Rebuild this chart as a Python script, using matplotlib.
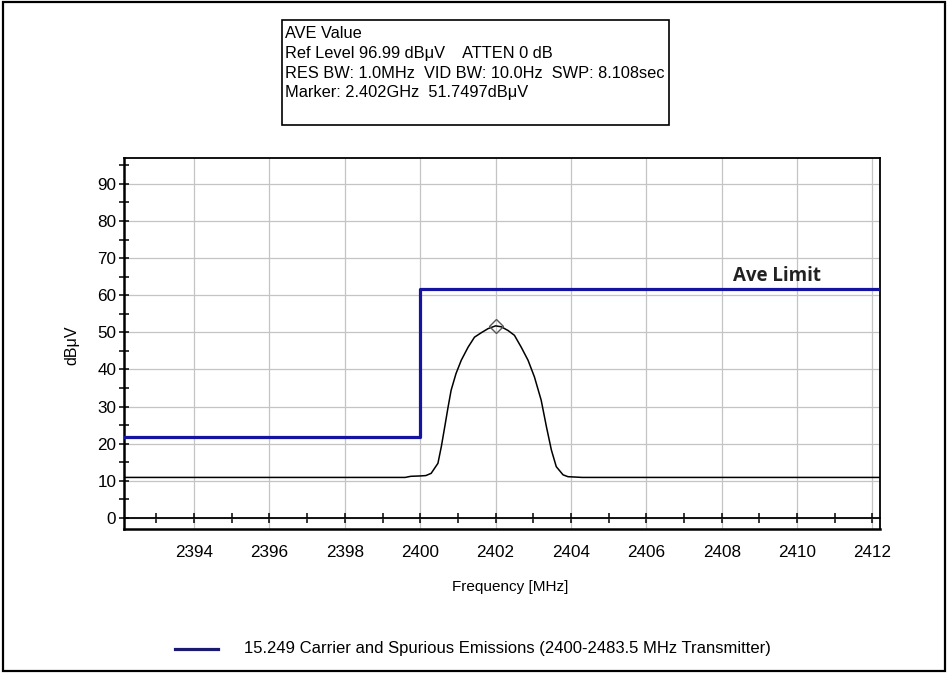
import matplotlib
matplotlib.use('Agg')
import matplotlib.pyplot as plt
from matplotlib.patches import Rectangle
from matplotlib.ticker import MultipleLocator

plt.rcParams['font.family'] = ['Liberation Sans', 'DejaVu Sans']

# measured trace (AVE detector)
trace_freq = [2392.14, 2399.6, 2399.75, 2400.0, 2400.15, 2400.29, 2400.47, 2400.56, 2400.65,
              2400.74, 2400.82, 2400.95, 2401.09, 2401.27, 2401.44, 2401.62, 2401.8,
              2402.0, 2402.15, 2402.33, 2402.5, 2402.68, 2402.86, 2403.03, 2403.21,
              2403.35, 2403.48, 2403.61, 2403.79, 2403.92, 2404.3, 2412.2]
trace_level = [10.9, 10.9, 11.2, 11.3, 11.4, 12.0, 14.7, 19.2, 24.5,
               29.9, 34.4, 38.9, 42.5, 46.0, 48.7, 49.9, 51.0,
               51.75, 51.5, 50.5, 49.2, 46.0, 42.5, 38.0, 31.7,
               24.5, 18.3, 13.8, 11.6, 11.1, 10.9, 10.9]

# limit line
limit_freq = [2392.14, 2400.0, 2400.0, 2412.2]
limit_level = [21.7, 21.7, 61.6, 61.6]

marker_freq = 2402.0
marker_level = 51.7497

info_lines = ["AVE Value",
              "Ref Level 96.99 dB\u03bcV    ATTEN 0 dB",
              "RES BW: 1.0MHz  VID BW: 10.0Hz  SWP: 8.108sec",
              "Marker: 2.402GHz  51.7497dB\u03bcV"]
legend_label = "15.249 Carrier and Spurious Emissions (2400-2483.5 MHz Transmitter)"

W, H = 948, 673
fig = plt.figure(figsize=(W / 100, H / 100), dpi=100)
ax = fig.add_axes([124 / W, 1 - 529 / H, (880 - 124) / W, (529 - 158) / H])

blue = '#1414a0'
ax.plot(limit_freq, limit_level, color=blue, lw=2.3, zorder=3)
ax.plot(trace_freq, trace_level, color='black', lw=1.1, zorder=4)
ax.plot([marker_freq], [marker_level], marker='D', ms=7, mfc='none',
        mec='#555555', mew=1.0, zorder=5)

ax.set_xlim(2392.14, 2412.2)
ax.set_ylim(-3.0, 96.99)

ax.xaxis.set_minor_locator(MultipleLocator(1))
ax.yaxis.set_minor_locator(MultipleLocator(5))
ax.set_yticks(range(0, 91, 10))
ax.set_xticks(range(2394, 2413, 2))

ax.grid(True, which='major', color='#c4c4c4', lw=0.9, zorder=0)

for s in ['top', 'right']:
    ax.spines[s].set_linewidth(1.3)
ax.spines['left'].set_linewidth(1.8)
ax.spines['bottom'].set_position(('data', 0))
ax.spines['bottom'].set_linewidth(1.3)
ax.plot([0, 1], [0, 0], transform=ax.transAxes, color='black', lw=1.8, clip_on=False)

ax.tick_params(axis='both', which='both', direction='inout', length=7, width=1.1,
               colors='black', labelsize=12.3)
ax.tick_params(axis='x', which='both', pad=16)
ax.tick_params(axis='y', which='both', pad=2)

ax.set_xlabel('Frequency [MHz]', fontsize=11)
ax.xaxis.set_label_coords((510 - 124) / (880 - 124), -(580 - 529) / (529 - 158))
ax.set_ylabel('dB\u03bcV', fontsize=11.5)
ax.yaxis.set_label_coords(-(124 - 79) / (880 - 124), (529 - 345) / (529 - 158))

ax.text(2408.3, 65.3, 'Ave Limit', fontsize=13.5, fontweight='bold',
        family=['Open Sans', 'DejaVu Sans'], color='#222222', va='center', ha='left')

# info box
fig.patches.append(Rectangle((282 / W, 1 - 125 / H), (669 - 282) / W, (125 - 20) / H,
                             transform=fig.transFigure, fill=False, ec='black', lw=1.2))
for i, t in enumerate(info_lines):
    fig.text(285 / W, 1 - (34 + i * 19.5) / H, t, fontsize=11.8, va='center', ha='left')

# legend
fig.add_artist(plt.Line2D([175 / W, 218 / W], [1 - 649 / H, 1 - 649 / H],
                          color='#1a1a70', lw=2.3, transform=fig.transFigure))
fig.text(244 / W, 1 - 649 / H, legend_label, fontsize=12, va='center', ha='left')

# outer border
fig.patches.append(Rectangle((3 / W, 2 / H), (945 - 3) / W, (671 - 2) / H,
                             transform=fig.transFigure, fill=False, ec='black', lw=1.6))

fig.savefig('out.png', dpi=100)
